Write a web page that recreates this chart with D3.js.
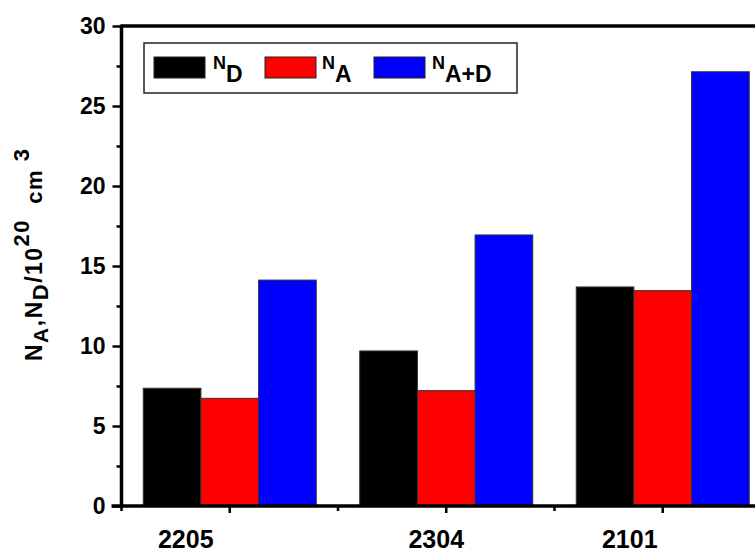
<!DOCTYPE html>
<html>
<head>
<meta charset="utf-8">
<script src="https://cdn.jsdelivr.net/npm/d3@7"></script>
<style>
  html, body { margin: 0; padding: 0; background: #fff; }
  svg { display: block; font-family: "Liberation Sans", Arial, sans-serif; font-weight: bold; }
</style>
</head>
<body>
<svg id="chart" width="755" height="553"></svg>
<script>
// Samples and carrier concentrations (x 10^20 cm^-3)
const samples = ["2205", "2304", "2101"];
const seriesKeys = ["ND", "NA", "NAD"];
const ndValues = [7.36, 9.69, 13.69];
const naValues = [6.73, 7.21, 13.46];
const nadValues = [14.12, 16.94, 27.14];
const yTicks = [0, 5, 10, 15, 20, 25, 30];
const yMinorTicks = [2.5, 7.5, 12.5, 17.5, 22.5, 27.5];

// label nudges for the sample names under the axis
const sampleLabelShift = [-44, -10, -33];

const colors = { ND: "#000000", NA: "#ff0000", NAD: "#0000ff" };
const seriesValues = { ND: ndValues, NA: naValues, NAD: nadValues };

const svg = d3.select("#chart");
const left = 121.5, bandW = 216.5;
const plotTop = 26, plotBottom = 506;

const x = d3.scaleBand().domain(samples).range([left, left + bandW * samples.length]).padding(0);
const xInner = d3.scaleBand().domain(seriesKeys).range([0, x.bandwidth()]).paddingOuter(0.377).paddingInner(0);
const y = d3.scaleLinear().domain([0, 30]).range([plotBottom, plotTop]);

// bars
const groups = svg.append("g").selectAll("g")
  .data(samples)
  .join("g")
  .attr("transform", d => `translate(${x(d)},0)`);

groups.selectAll("rect")
  .data((d, i) => seriesKeys.map(k => ({ key: k, value: seriesValues[k][i] })))
  .join("rect")
  .attr("x", d => xInner(d.key))
  .attr("y", d => y(d.value))
  .attr("width", xInner.bandwidth())
  .attr("height", d => y(0) - y(d.value))
  .attr("fill", d => colors[d.key])
  .attr("stroke", "#333")
  .attr("stroke-width", 1);

// top frame line
svg.append("line")
  .attr("x1", left).attr("x2", 755)
  .attr("y1", plotTop).attr("y2", plotTop)
  .attr("stroke", "#000").attr("stroke-width", 3.5);

// y axis
const yAxis = d3.axisLeft(y).tickValues(yTicks).tickSize(9).tickPadding(7).tickFormat(d3.format("d"));
const yg = svg.append("g").attr("transform", `translate(${left},0)`).call(yAxis);
yg.select(".domain").attr("stroke-width", 3.5).attr("d", `M0,${plotBottom + 1.5}V${plotTop - 1.5}`);
yg.selectAll(".tick line").attr("stroke-width", 2.5);
yg.selectAll(".tick text").attr("font-size", 23).attr("font-weight", "bold").attr("font-family", "Liberation Sans, Arial, sans-serif").attr("fill", "#000");

const yMinor = d3.axisLeft(y).tickValues(yMinorTicks).tickSize(5).tickFormat("");
const ym = svg.append("g").attr("transform", `translate(${left},0)`).call(yMinor);
ym.select(".domain").remove();
ym.selectAll(".tick line").attr("stroke-width", 2.5);

// x axis
const xAxis = d3.axisBottom(x).tickSize(7).tickPadding(17);
const xg = svg.append("g").attr("transform", `translate(0,${plotBottom})`).call(xAxis);
xg.select(".domain").attr("stroke-width", 3.5).attr("d", `M${left - 10},0H755`);
xg.selectAll(".tick line").attr("stroke-width", 2.5);
xg.selectAll(".tick text")
  .attr("font-size", 25).attr("font-weight", "bold")
  .attr("font-family", "Liberation Sans, Arial, sans-serif").attr("fill", "#000")
  .attr("dx", (d, i) => sampleLabelShift[i]);

// minor ticks on category boundaries
const boundaries = d3.range(samples.length + 1).map(i => left + i * bandW);
svg.append("g").selectAll("line")
  .data(boundaries)
  .join("line")
  .attr("x1", d => d).attr("x2", d => d)
  .attr("y1", plotBottom).attr("y2", plotBottom + 5)
  .attr("stroke", "#000").attr("stroke-width", 2.5);

// y axis title
const yTitle = svg.append("text")
  .attr("transform", `translate(42,${361}) rotate(-90)`)
  .attr("font-size", 23).attr("fill", "#000")
  .attr("textLength", 212).attr("lengthAdjust", "spacing");
yTitle.append("tspan").text("N");
yTitle.append("tspan").attr("font-size", 21).attr("dy", 6).text("A");
yTitle.append("tspan").attr("dy", -6).text(",N");
yTitle.append("tspan").attr("font-size", 22).attr("dy", 6).text("D");
yTitle.append("tspan").attr("dy", -6).text("/10");
yTitle.append("tspan").attr("font-size", 22).attr("dy", -13).text("20");
yTitle.append("tspan").attr("font-size", 22).attr("dy", 13).text("\u00a0 cm");
yTitle.append("tspan").attr("font-size", 22).attr("dy", -13).text("\u00a03");

// legend
const legend = svg.append("g");
legend.append("rect")
  .attr("x", 144).attr("y", 43).attr("width", 373).attr("height", 50)
  .attr("fill", "#fff").attr("stroke", "#222").attr("stroke-width", 1.5);

const legendItems = [
  { key: "ND", sx: 154, tx: 213, main: "N", sub: "D" },
  { key: "NA", sx: 265, tx: 322, main: "N", sub: "A" },
  { key: "NAD", sx: 374, tx: 432, main: "N", sub: "A+D" }
];
const li = legend.selectAll("g.item").data(legendItems).join("g").attr("class", "item");
li.append("rect")
  .attr("x", d => d.sx).attr("y", 57).attr("width", 51).attr("height", 21)
  .attr("fill", d => colors[d.key]).attr("stroke", "#222").attr("stroke-width", 1);
const lt = li.append("text").attr("x", d => d.tx).attr("y", 69).attr("fill", "#000");
lt.append("tspan").attr("font-size", 18).text(d => d.main);
lt.append("tspan").attr("font-size", 23).attr("dy", 12.5).text(d => d.sub);
</script>
</body>
</html>
